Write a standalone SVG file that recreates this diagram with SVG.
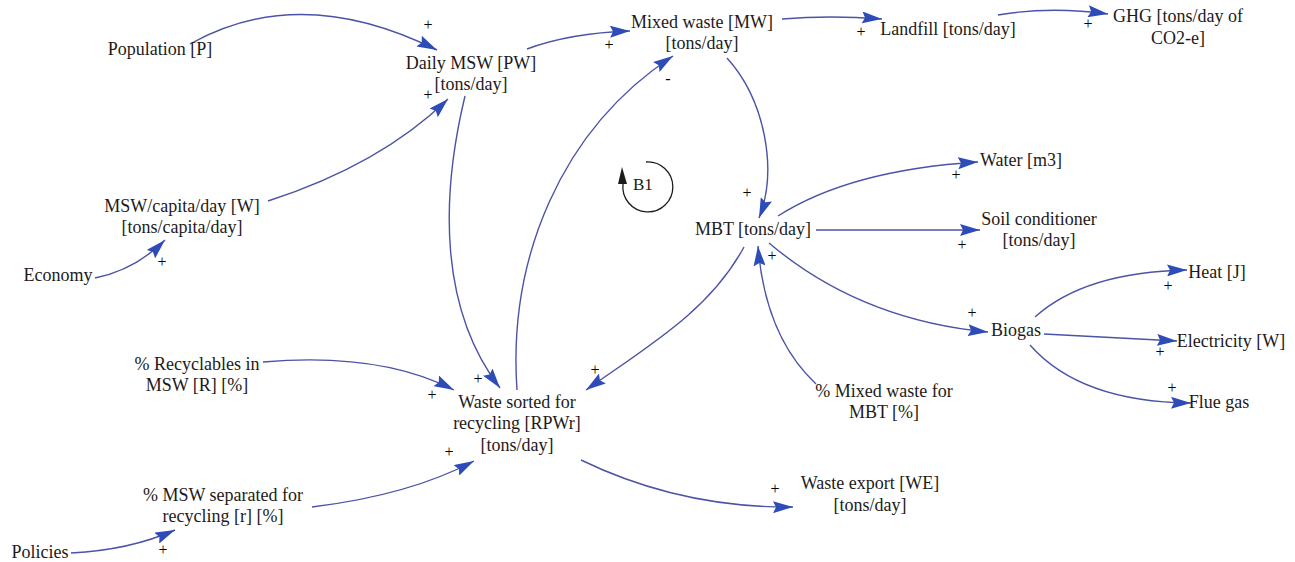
<svg xmlns="http://www.w3.org/2000/svg" width="1295" height="562" viewBox="0 0 1295 562" font-family="'Liberation Serif', 'Times New Roman', serif">
<style>
text{font-family:'Liberation Serif','Times New Roman',serif;font-size:18px;fill:#1e1a1a}
.n{text-anchor:middle}
.p{font-size:16px;text-anchor:middle;fill:#000}
.c{fill:none;stroke:#4b53a6;stroke-width:1.4;marker-end:url(#ah)}
</style>
<defs>
<marker id="ah" viewBox="0 0 20 12" refX="20" refY="6" markerWidth="20" markerHeight="12" markerUnits="userSpaceOnUse" orient="auto">
<path d="M0,0 L20,6 L0,12 L3,6 z" fill="#2d4cb8"/>
</marker>
</defs>
<rect width="1295" height="562" fill="#ffffff"/>
<g id="connectors">
<path class="c" d="M190,44 Q300,-18 437,50"/>
<path class="c" d="M268,201 Q380,165 448,99"/>
<path class="c" d="M95,278 Q135,270 165,240"/>
<path class="c" d="M527,49 Q570,33 630,31"/>
<path class="c" d="M782,19 Q830,15 882,19"/>
<path class="c" d="M998,15 Q1050,6 1108,14"/>
<path class="c" d="M727,58 C765,100 778,170 759,218"/>
<path class="c" d="M465,96 C440,200 440,310 500,388"/>
<path class="c" d="M517,390 C508,260 560,130 673,56"/>
<path class="c" d="M744,247 C710,310 650,345 586,390"/>
<path class="c" d="M816,384 C785,355 763,310 758,246"/>
<path class="c" d="M778,216 Q850,170 978,162"/>
<path class="c" d="M816,230 L980,230"/>
<path class="c" d="M769,243 Q860,320 988,332"/>
<path class="c" d="M1035,317 Q1085,272 1187,270"/>
<path class="c" d="M1044,334 L1177,341"/>
<path class="c" d="M1030,345 Q1080,402 1191,403"/>
<path class="c" d="M263,362 Q380,352 454,390"/>
<path class="c" d="M312,507 Q410,495 474,461"/>
<path class="c" d="M71,553 Q130,550 175,530"/>
<path class="c" d="M581,460 Q680,508 793,507"/>
</g>
<g id="polarities">
<text class="p" x="428" y="30">+</text>
<text class="p" x="428" y="100">+</text>
<text class="p" x="162" y="267">+</text>
<text class="p" x="609" y="50">+</text>
<text class="p" x="861" y="37">+</text>
<text class="p" x="1088" y="29">+</text>
<text class="p" x="747" y="198">+</text>
<text class="p" x="668" y="84">-</text>
<text class="p" x="956" y="180">+</text>
<text class="p" x="962" y="250">+</text>
<text class="p" x="972" y="318">+</text>
<text class="p" x="1168" y="291">+</text>
<text class="p" x="1160" y="357">+</text>
<text class="p" x="1172" y="393">+</text>
<text class="p" x="772" y="261">+</text>
<text class="p" x="595" y="375">+</text>
<text class="p" x="478" y="384">+</text>
<text class="p" x="432" y="400">+</text>
<text class="p" x="449" y="457">+</text>
<text class="p" x="163" y="555">+</text>
<text class="p" x="775" y="494">+</text>
</g>
<g id="loop-B1">
<path d="M646,162 A25,25 0 1 1 623,184" fill="none" stroke="#1e1a1a" stroke-width="1.3"/>
<path d="M622,167 L627,184 L618,184 z" fill="#1e1a1a"/>
<text x="633" y="190" style="font-size:17px">B1</text>
</g>
<g id="population"><text class="n" x="160" y="55">Population [P]</text></g>
<g id="daily-msw"><text class="n" x="471" y="69">Daily MSW [PW]</text><text class="n" x="471" y="90">[tons/day]</text></g>
<g id="mixed-waste"><text class="n" x="702" y="28">Mixed waste [MW]</text><text class="n" x="702" y="49">[tons/day]</text></g>
<g id="landfill"><text class="n" x="948" y="35">Landfill [tons/day]</text></g>
<g id="ghg"><text class="n" x="1178" y="22">GHG [tons/day of</text><text class="n" x="1178" y="44">CO2-e]</text></g>
<g id="water"><text class="n" x="1021" y="166">Water [m3]</text></g>
<g id="mbt"><text class="n" x="753" y="235">MBT [tons/day]</text></g>
<g id="soil"><text class="n" x="1039" y="225">Soil conditioner</text><text class="n" x="1039" y="246">[tons/day]</text></g>
<g id="heat"><text class="n" x="1217" y="278">Heat [J]</text></g>
<g id="biogas"><text class="n" x="1016" y="336">Biogas</text></g>
<g id="electricity"><text class="n" x="1231" y="347">Electricity [W]</text></g>
<g id="flue-gas"><text class="n" x="1219" y="408">Flue gas</text></g>
<g id="pct-mixed"><text class="n" x="884" y="397">% Mixed waste for</text><text class="n" x="884" y="418">MBT [%]</text></g>
<g id="msw-capita"><text class="n" x="182" y="212">MSW/capita/day [W]</text><text class="n" x="182" y="233">[tons/capita/day]</text></g>
<g id="economy"><text class="n" x="58" y="281">Economy</text></g>
<g id="pct-recyclables"><text class="n" x="197" y="370">% Recyclables in</text><text class="n" x="197" y="391">MSW [R] [%]</text></g>
<g id="waste-sorted"><text class="n" x="517" y="408">Waste sorted for</text><text class="n" x="517" y="429">recycling [RPWr]</text><text class="n" x="517" y="451">[tons/day]</text></g>
<g id="pct-separated"><text class="n" x="223" y="501">% MSW separated for</text><text class="n" x="223" y="522">recycling [r] [%]</text></g>
<g id="policies"><text class="n" x="40" y="558">Policies</text></g>
<g id="waste-export"><text class="n" x="870" y="489">Waste export [WE]</text><text class="n" x="870" y="511">[tons/day]</text></g>
</svg>
